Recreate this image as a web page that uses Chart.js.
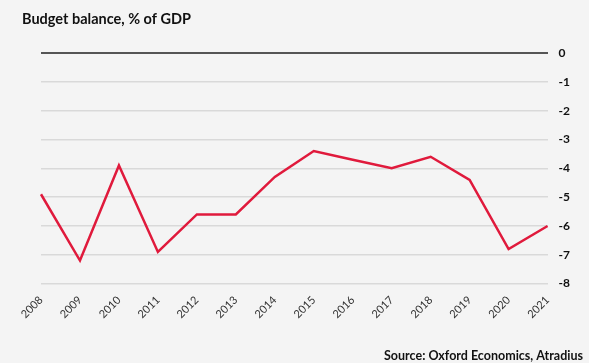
<!DOCTYPE html>
<html>
<head>
<meta charset="utf-8">
<script src="https://cdn.jsdelivr.net/npm/chart.js@4/dist/chart.umd.min.js"></script>
<style>
  html, body { margin: 0; padding: 0; background: #f4f4f4; }
  #wrap { position: relative; width: 589px; height: 363px; }
</style>
</head>
<body>
<div id="wrap"><canvas id="c" width="589" height="363"></canvas></div>
<script>
// Budget balance as % of GDP, 2008–2021
const years = ['2008','2009','2010','2011','2012','2013','2014','2015','2016','2017','2018','2019','2020','2021'];
const balance = [-4.9, -7.2, -3.9, -6.9, -5.6, -5.6, -4.3, -3.4, -3.7, -4.0, -3.6, -4.4, -6.8, -6.0];
const titleText = 'Budget balance, % of GDP';
const sourceText = 'Source: Oxford Economics, Atradius';

const FONT = 'Lato, "Open Sans", "Liberation Sans", sans-serif';

// Heading and source note drawn onto the canvas
const textPlugin = {
  id: 'headingAndSource',
  afterDraw(chart) {
    const ctx = chart.ctx;
    ctx.save();
    ctx.fillStyle = '#111';
    ctx.font = 'bold 14.5px ' + FONT;
    ctx.textBaseline = 'alphabetic';
    ctx.textAlign = 'left';
    ctx.fillText(titleText, 22, 24);
    ctx.font = 'bold 12.5px ' + FONT;
    ctx.textAlign = 'right';
    ctx.fillText(sourceText, 583, 360);
    ctx.restore();
  }
};

new Chart(document.getElementById('c'), {
  type: 'line',
  data: {
    labels: years,
    datasets: [{
      data: balance,
      borderColor: '#e01a3c',
      borderWidth: 2.5,
      pointRadius: 0,
      tension: 0,
      fill: false
    }]
  },
  options: {
    responsive: false,
    animation: false,
    layout: { padding: { left: 41, right: 8, top: 53, bottom: 40 } },
    plugins: { legend: { display: false }, tooltip: { enabled: false } },
    scales: {
      x: {
        offset: false,
        grid: { display: false },
        border: { display: false },
        ticks: {
          color: '#333',
          font: { family: FONT, size: 11 },
          minRotation: 45,
          maxRotation: 45,
          padding: 2
        }
      },
      y: {
        position: 'right',
        min: -8,
        max: 0,
        border: { display: false },
        grid: {
          drawTicks: false,
          color: ctx => ctx.tick && ctx.tick.value === 0 ? '#555' : '#d9d9d9',
          lineWidth: ctx => ctx.tick && ctx.tick.value === 0 ? 2 : 1.5
        },
        ticks: {
          stepSize: 1,
          color: '#111',
          font: { family: FONT, size: 12, weight: 'bold' },
          padding: 11
        }
      }
    }
  },
  plugins: [textPlugin]
});
</script>
</body>
</html>
